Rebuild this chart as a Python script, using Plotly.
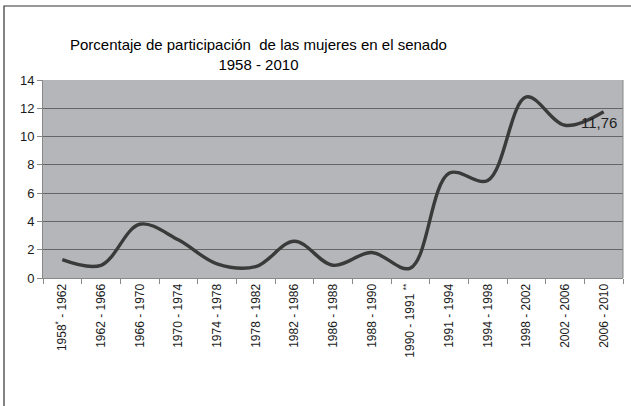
import plotly.graph_objects as go

categories = ["1958<sup>*</sup> - 1962", "1962 - 1966", "1966 - 1970", "1970 - 1974",
              "1974 - 1978", "1978 - 1982", "1982 - 1986", "1986 - 1988",
              "1988 - 1990", "1990 - 1991 <sup>**</sup>", "1991 - 1994", "1994 - 1998",
              "1998 - 2002", "2002 - 2006", "2006 - 2010"]
values = [1.3, 0.9, 3.8, 2.7, 1.0, 0.8, 2.6, 0.9, 1.8, 0.7, 7.4, 6.9, 12.8, 10.8, 11.76]
y_ticks = [0, 2, 4, 6, 8, 10, 12, 14]
title_text = "Porcentaje de participación  de las mujeres en el senado<br>1958 - 2010"
last_label = "11,76"

font_family = "Liberation Sans, Arial, sans-serif"

fig = go.Figure()
fig.add_trace(go.Scatter(
    x=list(range(len(categories))), y=values, mode="lines",
    line=dict(color="#3a3a3a", width=3.4, shape="spline", smoothing=1.0),
    hoverinfo="skip", showlegend=False,
))

fig.add_annotation(
    x=len(categories) - 1, y=values[-1], text=last_label, showarrow=False,
    xanchor="center", yanchor="middle", xshift=-5, yshift=-11,
    font=dict(family=font_family, size=15, color="#222222"),
)

fig.add_annotation(
    xref="paper", yref="paper", x=0.372, y=1.13, text=title_text,
    showarrow=False, xanchor="center", yanchor="middle",
    font=dict(family=font_family, size=15, color="#000000"),
)

# chart border (left and top visible)
fig.add_shape(type="rect", xref="paper", yref="paper",
              x0=(4 - 43) / 580, x1=(640 - 43) / 580,
              y0=(278 - 410) / 198, y1=(278 - 6) / 198,
              line=dict(color="#333333", width=1.2), fillcolor="rgba(0,0,0,0)", layer="below")

fig.update_layout(
    width=631, height=406,
    margin=dict(l=43, r=8, t=80, b=128, autoexpand=False),
    paper_bgcolor="white", plot_bgcolor="#b5b6ba",
    font=dict(family=font_family, size=12, color="#1a1a1a"),
    xaxis=dict(
        tickmode="array", tickvals=list(range(len(categories))), ticktext=categories,
        range=[-0.5, len(categories) - 0.5], tickangle=-90, automargin=False,
        showgrid=False, zeroline=False, showline=True, linecolor="#888888", linewidth=1,
        ticks="", tickfont=dict(size=12, color="#1a1a1a"), mirror=False,
    ),
    yaxis=dict(
        range=[0, 14], tickmode="array", tickvals=y_ticks, automargin=False,
        showgrid=True, gridcolor="#666666", gridwidth=1, zeroline=False,
        showline=True, linecolor="#888888", linewidth=1, ticks="outside", ticklen=5,
        tickcolor="#888888", tickfont=dict(size=13, color="#1a1a1a"),
    ),
)

# x boundary tick marks via minor ticks
fig.update_xaxes(minor=dict(tickmode="array", tickvals=[i - 0.5 for i in range(len(categories) + 1)],
                            ticks="outside", ticklen=5, tickcolor="#888888", showgrid=False))
# plot area right border
fig.add_shape(type="line", xref="paper", yref="paper", x0=1, x1=1, y0=0, y1=1,
              line=dict(color="#888888", width=1))

fig.write_html("out.html", config={"displayModeBar": False},
               post_script="document.body.style.margin='0';document.body.style.overflow='hidden';")
